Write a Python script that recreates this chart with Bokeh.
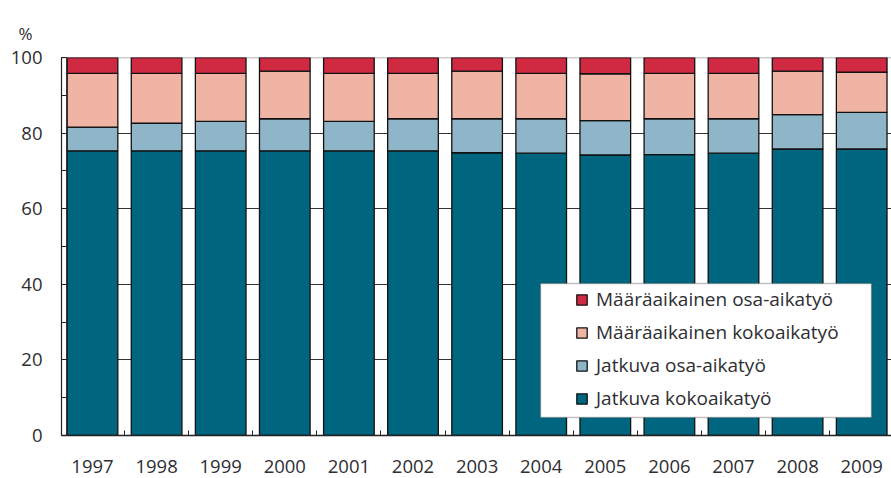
from bokeh.plotting import figure
from bokeh.models import (ColumnDataSource, FixedTicker, SingleIntervalTicker, Legend,
                          LegendItem, BoxAnnotation, Span, Range1d)
from bokeh.embed import file_html
from bokeh.resources import INLINE

years = ["1997", "1998", "1999", "2000", "2001", "2002", "2003",
         "2004", "2005", "2006", "2007", "2008", "2009"]
jatkuva_koko = [75.3, 75.3, 75.3, 75.3, 75.3, 75.3, 74.8, 74.7, 74.2, 74.3, 74.7, 75.8, 75.8]
jatkuva_osa = [6.3, 7.3, 7.8, 8.5, 7.8, 8.5, 9.0, 9.1, 9.1, 9.5, 9.1, 9.1, 9.7]
maara_koko = [14.2, 13.2, 12.7, 12.6, 12.7, 12.0, 12.6, 12.0, 12.4, 12.0, 12.0, 11.5, 10.6]
maara_osa = [4.2, 4.2, 4.2, 3.6, 4.2, 4.2, 3.6, 4.2, 4.3, 4.2, 4.2, 3.6, 3.9]

series = ["jatkuva_koko", "jatkuva_osa", "maara_koko", "maara_osa"]
labels = ["Jatkuva kokoaikatyö", "Jatkuva osa-aikatyö",
          "Määräaikainen kokoaikatyö", "Määräaikainen osa-aikatyö"]
colors = ["#00667f", "#8fb5c8", "#f0b4a5", "#d02a42"]
y_ticks_step = 20

x = list(range(len(years)))
src = ColumnDataSource(dict(x=x, jatkuva_koko=jatkuva_koko, jatkuva_osa=jatkuva_osa,
                            maara_koko=maara_koko, maara_osa=maara_osa))

W, H = 891, 478
FL, FT, FB = 61, 57, 43          # frame borders (px)
frame_w = W - FL
frame_h = H - FT - FB
ppu = 64.1                        # px per category step
x0 = -31 / ppu
x1 = x0 + frame_w / ppu
ppv = frame_h / 100.0

p = figure(width=W, height=H, output_backend="svg", toolbar_location=None,
           x_range=Range1d(x0, x1), y_range=Range1d(0, 100),
           min_border_left=FL, min_border_right=0, min_border_top=FT, min_border_bottom=FB)
p.outline_line_color = None
p.background_fill_color = "white"

TXT = "#2e2e33"
FONT = "Open Sans"

# "%" unit label as title
p.title.text = "%"
p.title.align = "left"
p.title.offset = -43
p.title.standoff = 26
p.title.text_font = FONT
p.title.text_font_size = "17px"
p.title.text_font_style = "normal"
p.title.text_color = TXT

# grid
p.xgrid.grid_line_color = None
p.ygrid.grid_line_color = "#333333"
p.ygrid.grid_line_width = 1.2
p.ygrid.ticker = SingleIntervalTicker(interval=y_ticks_step)

# y axis
p.yaxis.ticker = SingleIntervalTicker(interval=y_ticks_step, num_minor_ticks=2)
p.yaxis.axis_line_color = "#222222"
p.yaxis.axis_line_width = 1.2
p.yaxis.major_tick_in = 5
p.yaxis.major_tick_out = 0
p.yaxis.minor_tick_in = 5
p.yaxis.minor_tick_out = 0
p.yaxis.major_tick_line_color = "#222222"
p.yaxis.minor_tick_line_color = "#222222"
p.yaxis.major_label_standoff = 19
p.yaxis.major_label_text_font = FONT
p.yaxis.major_label_text_font_size = "18.5px"
p.yaxis.major_label_text_color = TXT

# x axis
p.xaxis.ticker = FixedTicker(ticks=x, minor_ticks=[i - 0.5 for i in range(len(years) + 1)])
p.xaxis.major_label_overrides = {i: y for i, y in enumerate(years)}
p.xaxis.axis_line_color = "#222222"
p.xaxis.axis_line_width = 1.5
p.xaxis.major_tick_in = 0
p.xaxis.major_tick_out = 0
p.xaxis.minor_tick_in = 5
p.xaxis.minor_tick_out = 0
p.xaxis.minor_tick_line_color = "#222222"
p.xaxis.major_label_standoff = 24
p.xaxis.major_label_text_font = FONT
p.xaxis.major_label_text_font_size = "18.5px"
p.xaxis.major_label_text_color = TXT

# inner y-axis line and top frame line
p.add_layout(Span(location=x0 + 5 / ppu, dimension="height", line_color="#555555",
                  line_width=1, level="underlay"))
p.add_layout(Span(location=100, dimension="width", line_color="#999999",
                  line_width=1.5, level="underlay"))

rs = p.vbar_stack(series, x="x", width=0.79, source=src, color=colors,
                  line_color="#111111", line_width=1.3)

# legend box
bx_l, bx_r, bx_t, bx_b = 479, 810, 152, 18
p.add_layout(BoxAnnotation(left=x0 + bx_l / ppu, right=x0 + bx_r / ppu,
                           top=bx_t / ppv, bottom=bx_b / ppv,
                           fill_color="white", fill_alpha=1,
                           line_color="#333333", line_width=1.5, level="annotation"))

items = [LegendItem(label=labels[i], renderers=[rs[i]]) for i in reversed(range(4))]
legend = Legend(items=items, location=(514, 24), padding=0, margin=0,
                border_line_alpha=0, background_fill_alpha=0,
                glyph_width=13, glyph_height=13, label_height=26, spacing=7,
                label_standoff=8, label_text_font=FONT, label_text_font_size="19px",
                label_text_color=TXT)
p.add_layout(legend)

open("out.html", "w").write(file_html(p, INLINE))
